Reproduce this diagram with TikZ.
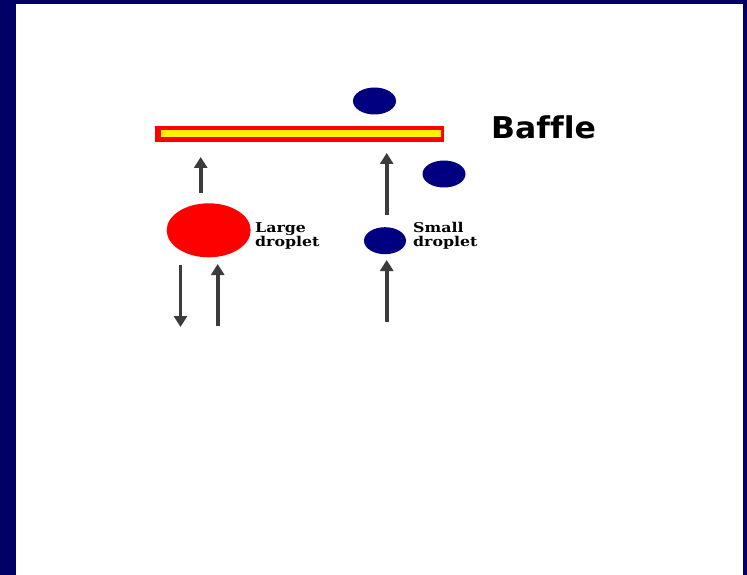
\documentclass[tikz,border=0pt]{standalone}
\usepackage{fontspec}
\usetikzlibrary{shapes.geometric,arrows.meta}
\newfontfamily\lblfont{DejaVu Serif}
\newfontfamily\bafflefont{DejaVu Sans}[Ligatures=NoCommon]
\definecolor{frame}{RGB}{0,0,102}
\definecolor{dropblue}{RGB}{0,0,128}
\definecolor{arrowgray}{RGB}{60,60,60}
\tikzset{
  drop/.style={ellipse, inner sep=0pt, draw=none},
  bluedrop/.style={drop, fill=dropblue, minimum width=43pt, minimum height=27pt},
  arr/.style={draw=arrowgray, line width=3.8pt, -{Triangle[width=13pt,length=11pt]}},
  lbl/.style={anchor=base west, inner sep=0pt, font=\lblfont\bfseries\fontsize{13.5}{12.5}\selectfont}
}
\begin{document}
\begin{tikzpicture}[x=1pt,y=-1pt]
  \useasboundingbox (0,0) rectangle (747,575);
  \fill[frame] (0,0) rectangle (747,575);
  \fill[white] (16,4) rectangle (743,575);
  % baffle
  \fill[red] (155,126) rectangle (444,142);
  \fill[yellow] (161,130) rectangle (441,137.5);
  \node[anchor=base west, inner sep=0pt, font=\bafflefont\bfseries\fontsize{30}{34}\selectfont] (baffle) at (491,138.5) {\scalebox{1.05}[1]{Baffle}};
  % droplets
  \node[bluedrop] (top) at (374.5,101) {};
  \node[bluedrop] (right) at (444,174) {};
  \node[drop, fill=red, minimum width=84pt, minimum height=54pt] (large) at (208.7,230.3) {};
  \node[bluedrop, minimum width=42pt, minimum height=27pt] (small) at (385,240.7) {};
  \node[lbl] (largelbl) at (255,232) {\scalebox{1.17}[1]{\begin{tabular}[t]{@{}l@{}}Large\\droplet\end{tabular}}};
  \node[lbl] (smalllbl) at (413,232) {\scalebox{1.17}[1]{\begin{tabular}[t]{@{}l@{}}Small\\droplet\end{tabular}}};
  % arrows
  \coordinate (a1s) at (200.7,193);  \coordinate (a1e) at (200.7,157);
  \coordinate (a2s) at (386.7,215);  \coordinate (a2e) at (386.7,153);
  \coordinate (a3s) at (180.5,265);  \coordinate (a3e) at (180.5,327);
  \coordinate (a4s) at (217.7,326);  \coordinate (a4e) at (217.7,264);
  \coordinate (a5s) at (386.7,322);  \coordinate (a5e) at (386.7,260);
  \draw[arr] (a1s) -- (a1e);
  \draw[arr] (a2s) -- (a2e);
  \draw[arr] (a3s) -- (a3e);
  \draw[arr] (a4s) -- (a4e);
  \draw[arr] (a5s) -- (a5e);
\end{tikzpicture}
\end{document}
